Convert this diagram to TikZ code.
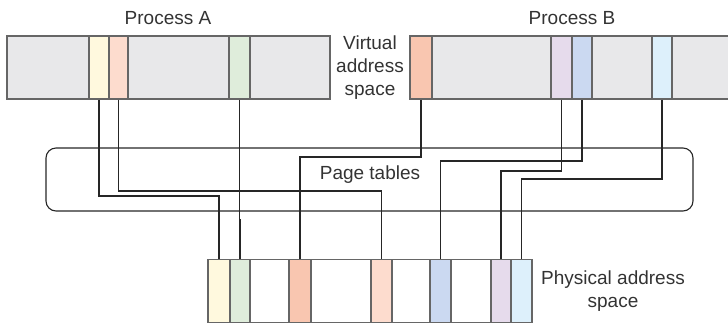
\documentclass[tikz,border=0pt]{standalone}
\usepackage{fontspec}
\setmainfont{Liberation Sans}
\definecolor{vgray}{HTML}{E8E8EA}
\definecolor{pyellow}{HTML}{FFF9DE}
\definecolor{ppeach}{HTML}{FDDCCE}
\definecolor{pgreen}{HTML}{DFEDDB}
\definecolor{porange}{HTML}{F9C6B0}
\definecolor{plilac}{HTML}{E6DBEC}
\definecolor{pblue}{HTML}{CBD9F1}
\definecolor{pcyan}{HTML}{DDF0FB}
\tikzset{ bar/.style = { rectangle % address space
        , draw = black!60
        , line width = 1.5pt
        , minimum height = 63pt
        , inner sep = 0pt
        }
        , pg/.style = { rectangle % page
        , draw = black!60
        , line width = 1.5pt
        , minimum height = 63pt
        , inner sep = 0pt
        }
        , wire/.style = { draw = black!85 % mapping
        , line width = 1.1pt
        }
        , lbl/.style = { font = \fontsize{19}{23}\selectfont
        , text = black!80
        , align = center
        }
        }
\def\page(#1,#2,#3)#4#5{% page strip from x #1 to x #2
  \pgfmathsetmacro{\w}{#2-#1}
  \node[pg, fill=#5, minimum width=\w pt] (#4) at ({(#1+#2)/2},#3) {};
}

\begin{document}
\begin{tikzpicture}[x=1pt, y=-1pt]
  \useasboundingbox (0,0) rectangle (728,325);
  % address spaces
  \node[bar, fill=vgray, minimum width=323pt] (va) at (168.5,67.5) {};
  \node[bar, fill=vgray, minimum width=340pt] (vb) at (580,67.5) {};
  \node[bar, fill=white, minimum width=324pt] (ph) at (370,291) {};
  \node[lbl] (ta) at (168,18) {Process A};
  \node[lbl] (tb) at (572,18) {Process B};
  \node[lbl] (tv) at (370,68) {Virtual\\address\\space};
  \node[lbl] (tp) at (613,291) {Physical address\\space};

  % page tables
  \node[draw=black!85, line width=1.1pt, rounded corners=10pt, minimum width=647pt, minimum height=63pt] (pt) at (369.5,179.5) {};
  \node[lbl] (tt) at (370,175) {Page tables};

  % pages of process A
  \page(89,109,67.5){aY}{pyellow}
  \page(109,128,67.5){aP}{ppeach}
  \page(229,250,67.5){aG}{pgreen}
  % pages of process B
  \page(410,432,67.5){bO}{porange}
  \page(551,572,67.5){bL}{plilac}
  \page(572,592,67.5){bB}{pblue}
  \page(652,672,67.5){bC}{pcyan}
  % physical pages
  \page(208,230,291){fY}{pyellow}
  \page(230,250,291){fG}{pgreen}
  \page(289,311,291){fO}{porange}
  \page(371,392,291){fP}{ppeach}
  \page(430,451,291){fB}{pblue}
  \page(491,511,291){fL}{plilac}
  \page(511,532,291){fC}{pcyan}

  \foreach \a/\b/\y in {aY/fY/196, aP/fP/191, aG/fG/220, bO/fO/157, bB/fB/161, bL/fL/171, bC/fC/179}
    \draw[wire] (\a.south) -- (\a.south |- 0,\y) -| (\b.north);
\end{tikzpicture}
\end{document}
